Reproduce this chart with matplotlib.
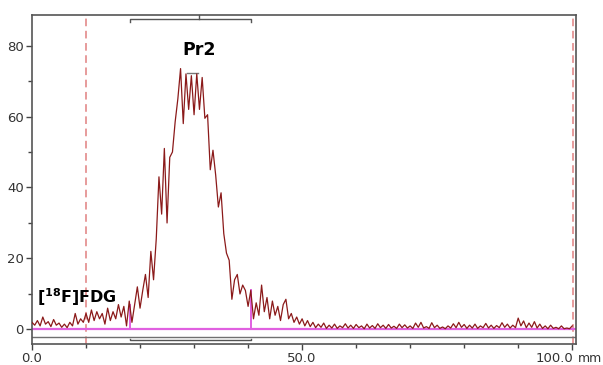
import numpy as np
import matplotlib
matplotlib.use("Agg")
import matplotlib.pyplot as plt
import matplotlib.transforms as mtransforms

# counts (a.u.) sampled every 0.5 mm from 0 to 100 mm
seg_a = [2.0, 1.2, 2.5, 1.0, 3.5, 1.5, 2.2, 0.8, 2.8, 1.2, 1.8, 0.6, 1.5, 0.5, 2.0, 1.0, 4.5, 1.5, 3.0, 2.0, 4.5]
seg_b = [2.0, 5.5, 2.5, 5.0, 3.0, 4.5, 1.5, 6.0, 2.5, 5.0, 3.0, 7.0, 3.5, 6.5, 1.0]
seg_c = [8.0, 2.0, 7.0, 12.0, 6.0, 11.0, 15.5, 9.0, 22.0, 14.0,
         25.5, 43.0, 32.5, 51.0, 30.0, 48.5, 50.0, 58.5, 65.0, 73.5,
         58.0, 72.0, 62.0, 71.5, 60.5, 72.0, 62.0, 71.0, 59.5, 60.5,
         45.0, 50.5, 43.5, 34.5, 38.5, 27.0, 21.5, 19.5, 8.5, 14.0,
         15.5, 10.0, 12.5, 11.0, 6.5, 11.0, 3.0, 7.5, 4.0, 12.5,
         5.0, 9.0, 3.0, 8.0, 4.0, 6.5, 2.5, 7.0, 8.5, 3.0,
         4.5, 2.0, 3.5, 1.5, 3.0, 1.0, 2.5, 0.8, 2.0, 0.5,
         1.5, 0.6, 1.8]
seg_d = [0.3, 1.2, 0.4, 1.5, 0.3, 1.0, 0.5, 1.6, 0.4, 1.2,
         0.3, 1.4, 0.5, 1.0, 0.2, 1.5, 0.4, 1.1, 0.3, 1.6,
         0.5, 1.2, 0.3, 1.4, 0.4, 0.9, 0.3, 1.5, 0.5, 1.3,
         0.4, 1.0, 0.3, 1.8, 0.6, 2.0, 0.4, 0.8, 0.3, 1.9,
         0.5, 1.2, 0.3, 0.7, 0.2, 1.0, 0.4, 1.6, 0.5, 2.0,
         0.6, 1.4, 0.3, 1.2, 0.4, 1.5, 0.3, 1.0, 0.5, 1.7,
         0.4, 1.2, 0.3, 1.1, 0.5, 1.9, 0.6, 1.5, 0.4, 1.2,
         0.5, 3.2, 1.0, 2.4, 0.5, 1.8, 0.6, 2.2, 0.4, 1.5,
         0.3, 1.0, 0.2, 1.2, 0.3, 0.6, 0.2, 1.0, 0.2, 0.4,
         0.2, 1.0]
counts = np.array(seg_a + seg_b + seg_c + seg_d)
step_mm = 0.5
position_mm = np.arange(len(counts)) * step_mm

# region of interest / markers
roi_start, roi_end = 18.1, 40.5
origin_mm, front_mm = 10.0, 100.1
x_ticks = [0, 50, 100]
x_ticklabels = ["0.0", "50.0", "100.0"]
y_ticks = [0, 20, 40, 60, 80]

W, H = 603, 365
fig = plt.figure(figsize=(W / 100, H / 100), dpi=100)
ax = fig.add_axes([32 / W, 1 - 344 / H, (576 - 32) / W, (344 - 15) / H])
ax.set_xlim(0, 100.7)
ax.set_ylim(-4.1, 88.6)

line_col = "#8b1a1a"
ax.plot(position_mm, counts, color=line_col, lw=0.9, zorder=3)

pink = "#e060e0"
ax.axhline(0.2, color=pink, lw=1.6, zorder=2)
for xm in (roi_start, roi_end):
    ax.plot([xm, xm], [0.2, np.interp(xm, position_mm, counts)], color=pink, lw=1.4, zorder=2)

ax.axhline(-2.0, color="#707070", lw=1.0, zorder=2)

for xm in (origin_mm, front_mm):
    ax.axvline(xm, color="#e08080", lw=1.1, ls=(0, (5, 3)), zorder=1)

# brackets
bc = "#555555"
ax.plot([roi_start, roi_start, roi_end, roi_end], [86.5, 87.6, 87.6, 86.5], color=bc, lw=1.0, clip_on=False)
ax.plot([31.0, 31.0], [87.6, 88.6], color=bc, lw=1.0, clip_on=False)
ax.plot([roi_start, roi_start, roi_end, roi_end], [-2.6, -3.1, -3.1, -2.6], color=bc, lw=1.0, clip_on=False)
ax.plot([28.6, 30.8], [72.3, 72.3], color="#777777", lw=1.0)

ax.text(31.0, 78.7, "Pr2", fontsize=12.5, fontweight="bold", ha="center", va="center", family="DejaVu Sans")
ax.text(1.0, 6.0, r"[$^{\mathbf{18}}$F]FDG", fontsize=11.5, fontweight="bold", ha="left", va="bottom", family="DejaVu Sans")

for s in ax.spines.values():
    s.set_color("#555555")
    s.set_linewidth(1.2)

ax.set_xticks(x_ticks)
ax.set_xticklabels(x_ticklabels)
ax.set_xticks(np.arange(0, 101, 10), minor=True)
ax.set_yticks(y_ticks)
ax.set_yticks(np.arange(10, 90, 20), minor=True)
ax.tick_params(axis="both", which="both", direction="out", colors="#444444", labelcolor="#333333", labelsize=9.5)
ax.tick_params(which="major", length=4, width=1)
ax.tick_params(which="minor", length=3, width=1)
ax.tick_params(axis="x", pad=2)
ax.tick_params(axis="y", pad=2)
fig.canvas.draw()
last = ax.get_xticklabels()[-1]
last.set_horizontalalignment("right")
last.set_transform(last.get_transform() + mtransforms.ScaledTranslation(1 / 100, 0, fig.dpi_scale_trans))

ax.annotate("mm", xy=(1.0, 0), xycoords="axes fraction", xytext=(10, -6), textcoords="offset points",
            fontsize=9, color="#333333", ha="center", va="top", annotation_clip=False)

fig.savefig("out.png", dpi=100, facecolor="white")
